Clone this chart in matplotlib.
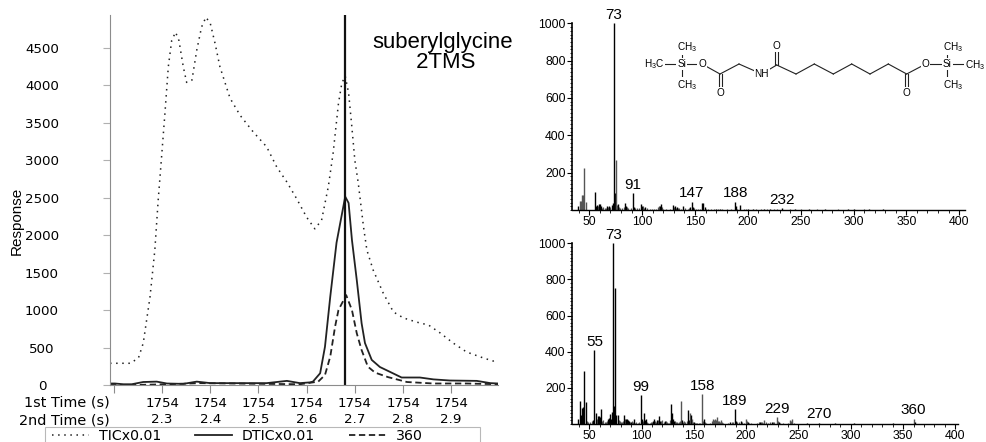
import matplotlib
matplotlib.use('Agg')
from matplotlib import pyplot as plt
from matplotlib.lines import Line2D
from matplotlib.patches import Rectangle
from matplotlib.ticker import MultipleLocator

plt.rcParams['mathtext.default'] = 'regular'

W, H = 986, 442

# chromatogram
tic_t = [2.192, 2.234, 2.251, 2.261, 2.275, 2.285, 2.292, 2.299, 2.306, 2.313, 2.320, 2.328, 2.335, 2.344,
         2.351, 2.362, 2.372, 2.382, 2.391, 2.400, 2.410, 2.420, 2.431, 2.441, 2.462, 2.489, 2.517, 2.538,
         2.559, 2.579, 2.600, 2.617, 2.631, 2.645, 2.655, 2.666, 2.673, 2.680, 2.687, 2.693, 2.700, 2.707,
         2.718, 2.725, 2.738, 2.759, 2.780, 2.801, 2.828, 2.853, 2.877, 2.904, 2.932, 2.967, 2.987, 2.998]
tic_v = [290, 290, 360, 560, 1175, 1800, 2470, 3045, 3630, 4250, 4600, 4710, 4600, 4250,
         4040, 4070, 4470, 4780, 4910, 4830, 4560, 4250, 4030, 3830, 3600, 3380, 3180, 2910,
         2710, 2490, 2240, 2085, 2200, 2650, 3100, 3760, 4030, 4125, 3900, 3500, 3000, 2700,
         2110, 1800, 1535, 1225, 975, 895, 840, 800, 695, 560, 440, 360, 320, 345]
dtic_t = [2.192, 2.202, 2.220, 2.237, 2.261, 2.289, 2.310, 2.344, 2.372, 2.400, 2.448, 2.517, 2.559, 2.586,
          2.607, 2.613, 2.628, 2.638, 2.649, 2.662, 2.680, 2.687, 2.694, 2.704, 2.714, 2.721, 2.735, 2.752,
          2.773, 2.797, 2.835, 2.863, 2.897, 2.953, 2.981, 2.998]
dtic_v = [20, 20, 10, 10, 40, 45, 20, 15, 45, 25, 25, 25, 55, 25,
          35, 45, 157, 510, 1180, 1900, 2515, 2430, 1935, 1400, 825, 560, 335, 240,
          175, 100, 100, 75, 60, 55, 25, 20]
ion_t = [2.192, 2.206, 2.241, 2.310, 2.379, 2.586, 2.624, 2.638, 2.649, 2.659, 2.666, 2.682, 2.694, 2.704,
         2.714, 2.727, 2.742, 2.769, 2.808, 2.863, 2.932, 2.998]
ion_v = [0, 0, 0, 10, 25, 10, 45, 133, 380, 780, 1000, 1200, 1000, 690,
         467, 245, 165, 105, 40, 20, 20, 10]
marker_t = 2.68
time_ticks = [2.2, 2.3, 2.4, 2.5, 2.6, 2.7, 2.8, 2.9]
time_labels = ['', '1754\n2.3', '1754\n2.4', '1754\n2.5', '1754\n2.6', '1754\n2.7', '1754\n2.8', '1754\n2.9']
resp_ticks = [0, 500, 1000, 1500, 2000, 2500, 3000, 3500, 4000, 4500]

# spectra
top_mz = [39, 41, 42, 43, 44, 45, 47, 55, 56, 57, 59, 60, 61, 67, 69, 71, 72, 73, 74, 75, 77, 84, 85, 91, 92,
          99, 100, 103, 117, 118, 129, 131, 133, 139, 145, 147, 148, 157, 158, 159, 170, 174, 188, 189, 193,
          200, 205, 215, 221, 232, 245, 258, 273, 295, 300, 315, 328]
top_int = [20, 50, 50, 80, 80, 225, 45, 95, 20, 25, 30, 30, 20, 20, 20, 25, 40, 1000, 90, 270, 30, 35, 20, 90, 15,
           30, 20, 15, 20, 30, 25, 20, 15, 20, 15, 45, 15, 35, 35, 15, 8, 8, 45, 20, 25,
           8, 8, 8, 6, 10, 5, 5, 8, 6, 6, 5, 5]
top_grey = [41, 42, 43, 44, 45, 47, 75]
top_peaks = [73, 91, 147, 188, 232]
top_low_mz = [58, 62, 63, 65, 66, 68, 70, 76, 78, 79, 81, 83, 86, 87, 89, 93, 95, 97, 101, 102, 105, 107, 109, 111,
              113, 115, 116, 119, 120, 123, 126, 130, 132, 134, 135, 137, 141, 143, 144, 149, 151, 153, 155, 160,
              162, 165, 168, 172, 176, 180, 184, 190, 196, 198, 208, 212, 218, 225, 228, 240, 250, 265, 285, 310]
top_low_int = [20, 12, 15, 12, 12, 15, 15, 25, 15, 12, 10, 15, 15, 10, 12, 12, 10, 12, 20, 12, 12, 8, 8, 8,
               8, 15, 20, 15, 8, 8, 8, 18, 12, 12, 10, 8, 10, 8, 10, 10, 6, 6, 8, 8,
               6, 5, 6, 6, 5, 5, 6, 8, 6, 5, 5, 5, 5, 5, 5, 4, 4, 4, 4, 4]

bot_mz = [39, 41, 42, 43, 44, 45, 47, 54, 55, 56, 58, 59, 60, 61, 68, 69, 70, 71, 72, 73, 74, 75, 76, 77, 83, 85,
          86, 87, 88, 90, 93, 99, 100, 102, 103, 104, 111, 112, 115, 117, 118, 122, 128, 129, 130, 131, 138, 139,
          144, 145, 146, 147, 148, 150, 158, 160, 168, 170, 172, 176, 185, 189, 190, 195, 200, 202, 213, 217,
          225, 229, 231, 242, 244, 258, 270, 285, 303, 340, 360, 361]
bot_int = [25, 125, 50, 90, 95, 295, 120, 20, 410, 60, 45, 45, 40, 85, 30, 35, 55, 30, 65, 1000, 100, 750, 50, 50, 50, 25,
           25, 20, 15, 10, 30, 160, 25, 60, 20, 30, 15, 30, 20, 45, 15, 15, 110, 60, 30, 15, 130, 20,
           75, 20, 60, 50, 30, 10, 165, 30, 30, 30, 40, 20, 10, 85, 15, 15, 25, 10, 10, 20,
           10, 40, 10, 20, 25, 5, 8, 6, 8, 3, 30, 10]
bot_grey = [138, 146, 148, 158, 168, 170, 172, 176, 200, 217, 229, 242, 244, 360]
bot_peaks = [55, 73, 99, 158, 189, 229, 270, 360]
bot_low_mz = [48, 49, 51, 53, 57, 62, 63, 65, 66, 67, 78, 79, 80, 81, 82, 84, 89, 91, 92, 94, 95, 97, 98, 101, 105,
              106, 108, 109, 110, 113, 114, 116, 119, 120, 121, 123, 124, 125, 126, 127, 132, 133, 134, 135, 136,
              137, 140, 141, 142, 143, 149, 151, 152, 153, 155, 156, 159, 161, 162, 165, 167, 169, 171, 173, 174,
              175, 177, 178, 183, 186, 187, 191, 193, 196, 198, 201, 203, 205, 210, 212, 214, 215, 216, 219, 221,
              223, 226, 227, 230, 232, 235, 240, 243, 246]
bot_low_int = [15, 10, 10, 15, 25, 15, 20, 12, 10, 15, 20, 15, 10, 10, 15, 30, 10, 15, 10, 8, 10, 8, 12, 15, 10,
               8, 8, 10, 12, 15, 10, 20, 15, 20, 12, 15, 10, 8, 8, 20, 15, 12, 10, 8, 12,
               15, 10, 15, 10, 15, 12, 8, 8, 6, 5, 6, 15, 10, 8, 8, 15, 20, 20, 15, 15,
               12, 10, 8, 8, 10, 12, 10, 12, 12, 8, 15, 8, 6, 6, 10, 10, 10, 8, 10, 8,
               10, 10, 10, 15, 8, 6, 8, 15, 6]

# molecule, in picture pixels
bonds = [((655, 64), (681.7, 64)), ((681.7, 47), (681.7, 81)), ((681.7, 64), (702, 64)), ((702, 64), (720, 74)),
         ((720, 74), (739, 64)), ((739, 64), (761.7, 74)), ((761.7, 74), (776.7, 65)),
         ((775.2, 65), (775.2, 46)), ((778.2, 65), (778.2, 46)), ((718.5, 74), (718.5, 92.7)), ((721.5, 74), (721.5, 92.7)),
         ((776.7, 65), (796, 74)), ((796, 74), (814.3, 64)), ((814.3, 64), (833.3, 74)), ((833.3, 74), (851.7, 64)),
         ((851.7, 64), (870, 74)), ((870, 74), (888.3, 64)), ((888.3, 64), (906.7, 74)), ((906.7, 74), (925.7, 64)),
         ((905.2, 74), (905.2, 92.7)), ((908.2, 74), (908.2, 92.7)), ((925.7, 64), (947.3, 64)),
         ((947.3, 47), (947.3, 81)), ((947.3, 64), (965, 64))]
atoms = [(681.7, 64, 'Si'), (702, 64, 'O'), (761.7, 74, 'NH'), (776.7, 46, 'O'), (720, 93, 'O'), (906.7, 93, 'O'),
         (925.7, 64, 'O'), (947.3, 64, 'Si'), (687, 47, 'CH$_3$'), (687, 85, 'CH$_3$'), (654, 64, 'H$_3$C'),
         (953, 47, 'CH$_3$'), (953, 85, 'CH$_3$'), (975, 65, 'CH$_3$')]


def px_axes(fig, left, top, right, bottom):
  return fig.add_axes([left / W, 1 - bottom / H, (right - left) / W, (bottom - top) / H])


def spectrum(fig, box, xlim, mz, inten, grey, peaks, low_mz, low_int):
  ax = px_axes(fig, *box)
  colors = ['#555555' if m in grey else 'black' for m in mz]
  ax.vlines(low_mz, 0, low_int, colors='#555555', linewidth=0.9)
  ax.vlines(mz, 0, inten, colors=colors, linewidth=1.0)
  ax.set_xlim(*xlim)
  ax.set_ylim(0, 1000)
  ax.spines['top'].set_visible(False)
  ax.spines['right'].set_visible(False)
  ax.spines['left'].set_linewidth(1.2)
  ax.spines['bottom'].set_linewidth(1.0)
  ax.xaxis.set_major_locator(MultipleLocator(50))
  ax.xaxis.set_minor_locator(MultipleLocator(10))
  ax.yaxis.set_minor_locator(MultipleLocator(20))
  ax.set_yticks([200, 400, 600, 800, 1000])
  ax.tick_params(which='major', length=3.4, width=0.8, labelsize=8.8, pad=1.2)
  ax.tick_params(which='minor', length=1.8, width=0.6)
  for label in ax.get_xticklabels() + ax.get_yticklabels():
    label.set_fontfamily('Liberation Sans')
  for m in peaks:
    ax.annotate(str(m), (m, inten[mz.index(m)]), xytext=(0, 0.8), textcoords='offset points',
                ha='center', va='bottom', fontsize=11, family='Liberation Sans', annotation_clip=False)
  return ax


def main():
  fig = plt.figure(figsize=(W / 100, H / 100), dpi=100)

  ax = px_axes(fig, 110, 15, 498, 385)
  ax.plot(tic_t, tic_v, color='#222222', linewidth=1.1, linestyle=(0, (1, 3)), label='TICx0.01')
  ax.plot(dtic_t, dtic_v, color='#222222', linewidth=1.3, label='DTICx0.01')
  ax.plot(ion_t, ion_v, color='#222222', linewidth=1.3, linestyle=(0, (3.5, 2)), label='360')
  ax.axvline(marker_t, color='#111111', linewidth=1.6)
  ax.set_xlim(2.192, 2.997)
  ax.set_ylim(0, 4940)
  ax.spines['top'].set_visible(False)
  ax.spines['right'].set_visible(False)
  ax.spines['left'].set_color('#8c8c8c')
  ax.spines['bottom'].set_color('#8c8c8c')
  ax.set_xticks(time_ticks)
  ax.set_xticklabels(time_labels, fontsize=9.6, linespacing=1.3)
  ax.set_yticks(resp_ticks)
  ax.set_yticklabels([str(v) for v in resp_ticks], fontsize=9.6, ha='center')
  ax.tick_params(axis='x', length=5.5, color='#8c8c8c', pad=3)
  ax.tick_params(axis='y', length=5, color='#b0b0b0', pad=44)

  fig.text(17 / W, 1 - 221 / H, 'Response', rotation=90, ha='center', va='center', fontsize=11,
           family='Liberation Sans')
  fig.text(110 / W, 1 - 403 / H, '1st Time (s)', ha='right', va='center', fontsize=10.4)
  fig.text(110 / W, 1 - 420 / H, '2nd Time (s)', ha='right', va='center', fontsize=10.4)
  fig.text(443 / W, 1 - 52.5 / H, 'suberylglycine\n 2TMS', ha='center', va='center', fontsize=15.9,
           family='Liberation Sans', linespacing=0.95)

  spectrum(fig, (572, 23.3, 965, 210), (33.6, 405.5), top_mz, top_int, top_grey, top_peaks, top_low_mz, top_low_int)
  spectrum(fig, (572, 243.3, 958, 424), (33.5, 402.5), bot_mz, bot_int, bot_grey, bot_peaks, bot_low_mz, bot_low_int)

  # structure overlay
  over = fig.add_axes([0, 0, 1, 1])
  over.set_xlim(0, W)
  over.set_ylim(H, 0)
  over.axis('off')
  over.patch.set_alpha(0)
  for a, b in bonds:
    over.add_line(Line2D([a[0], b[0]], [a[1], b[1]], color='#222222', linewidth=0.8))
  for x, y, s in atoms:
    over.text(x, y, s, ha='center', va='center', fontsize=7.2, family='Liberation Sans',
              bbox=dict(facecolor='white', edgecolor='none', pad=0.6))
  # legend box runs off the bottom of the picture
  over.add_patch(Rectangle((45, 427), 435, 30, facecolor='white', edgecolor='#b8b8b8', linewidth=0.8))

  handles, labels = ax.get_legend_handles_labels()
  fig.legend(handles, labels, ncol=3, loc='upper left', bbox_to_anchor=(52 / W, 1 - 429 / H),
             borderaxespad=0, frameon=False, fontsize=10.2, handlelength=2.6, handletextpad=0.7,
             columnspacing=2.4, borderpad=0)

  fig.savefig('out.png', dpi=100)


if __name__ == "__main__":
  main()
